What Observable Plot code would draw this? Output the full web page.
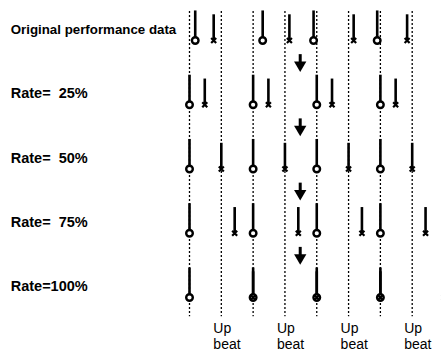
<!DOCTYPE html>
<html>
<head>
<meta charset="utf-8">
<script src="https://cdn.jsdelivr.net/npm/d3@7"></script>
<script src="https://cdn.jsdelivr.net/npm/@observablehq/plot@0.6"></script>
<style>
  html, body { margin: 0; padding: 0; background: #fff; }
  svg text { white-space: pre; }
</style>
</head>
<body>
<div id="chart"></div>
<script>
// ---- data ----
const rowLabels = ["Original performance data", "Rate=  25%", "Rate=  50%", "Rate=  75%", "Rate=100%"];
const beatGrid = [0, 0.5, 1, 1.5, 2, 2.5, 3, 3.5];
const upbeatPositions = [0.5, 1.5, 2.5, 3.5];
const upbeatText = "Up\nbeat";
// down-beat notes (circle heads), per row, in beats
const downNotes = [
  [0.09, 1.15, 1.95, 2.95],
  [0, 1, 2, 3],
  [0, 1, 2, 3],
  [0, 1, 2, 3],
  [0, 1, 2, 3]
];
// up-beat notes (x heads), per row, in beats
const upNotes = [
  [0.38, 1.57, 2.58, 3.42],
  [0.24, 1.24, 2.24, 3.24],
  [0.5, 1.5, 2.5, 3.5],
  [0.71, 1.71, 2.71, 3.71],
  [1, 2, 3, 4]
];
const arrowBeat = 1.74;
const arrowRows = [0, 1, 2, 3];

// ---- tables ----
const downData = downNotes.flatMap((r, i) => r.map(x => ({row: i, x})));
const upData = upNotes.flatMap((r, i) => r.map(x => ({row: i, x})));
const labelData = rowLabels.map((t, i) => ({row: i, t}));
const upbeatData = upbeatPositions.map(x => ({x, t: upbeatText}));
const arrowData = arrowRows.map(r => ({x: arrowBeat, row: r}));

const downTriangle = {
  draw(ctx, size) {
    const w = Math.sqrt(size * 1.6);
    const h = w * 0.85;
    ctx.moveTo(-w / 2, -h / 3);
    ctx.lineTo(w / 2, -h / 3);
    ctx.lineTo(0, 2 * h / 3);
    ctx.closePath();
  }
};

const chart = Plot.plot({
  width: 441,
  height: 354,
  x: {type: "linear", domain: [0, 3.5], range: [189, 411.7], axis: null},
  y: {type: "linear", domain: [0, 4], range: [40, 297], axis: null},
  style: {fontFamily: "'Liberation Sans', Arial, Helvetica, sans-serif", background: "#fff"},
  marks: [
    Plot.ruleX(beatGrid, {x: d => d, y1: -0.45, y2: 4.3, stroke: "#000", strokeWidth: 1.3, strokeDasharray: "2,2"}),
    Plot.ruleX(downData, {x: "x", y1: "row", y2: d => d.row - 0.46, stroke: "#000", strokeWidth: 2.6}),
    Plot.ruleX(upData, {x: "x", y1: "row", y2: d => d.row - 0.4, stroke: "#000", strokeWidth: 2.6}),
    Plot.dot(downData, {x: "x", y: "row", r: 3.3, stroke: "#000", strokeWidth: 2.4, fill: "#fff"}),
    Plot.dot(upData, {x: "x", y: "row", r: 2.4, symbol: "times", stroke: "#000", strokeWidth: 2.2}),
    Plot.ruleX(arrowData, {x: "x", y1: d => d.row + 0.22, y2: d => d.row + 0.38, stroke: "#000", strokeWidth: 3}),
    Plot.dot(arrowData, {x: "x", y: d => d.row + 0.38, r: 5.5, symbol: downTriangle, fill: "#000", stroke: "none"}),
    Plot.text(labelData.filter(d => d.row === 0), {x: -2.81, y: d => d.row - 0.16, text: "t", textAnchor: "start", fontWeight: "bold", fontSize: 13.3, fill: "#000"}),
    Plot.text(labelData.filter(d => d.row > 0), {x: -2.81, y: d => d.row - 0.17, text: "t", textAnchor: "start", fontWeight: "bold", fontSize: 14.5, fill: "#000"}),
    Plot.text(upbeatData, {x: d => d.x - 0.125, y: 4.6, text: "t", textAnchor: "start", lineAnchor: "middle", lineHeight: 1.15, fontSize: 14, fill: "#000"})
  ]
});
document.getElementById("chart").appendChild(chart);
</script>
</body>
</html>
